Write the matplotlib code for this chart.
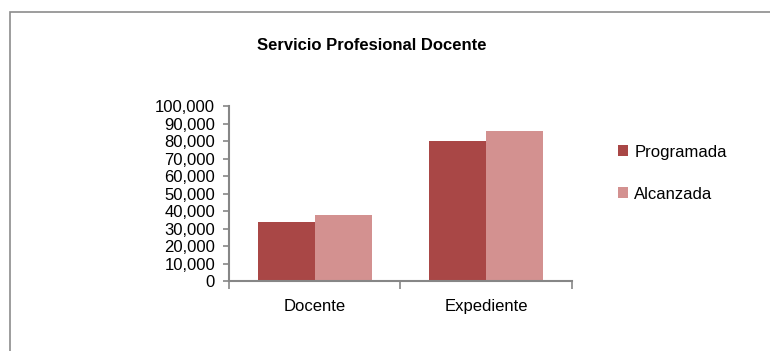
import numpy as np
import matplotlib.pyplot as plt
from matplotlib.patches import Rectangle
from matplotlib.ticker import FuncFormatter, MultipleLocator

plt.rcParams['font.family'] = ['Liberation Sans', 'DejaVu Sans']

categories = ["Docente", "Expediente"]
series_names = ["Programada", "Alcanzada"]
programada = [33900, 80000]
alcanzada = [37700, 85700]
colors = ["#A94746", "#D39190"]
axis_gray = "#868686"

fig = plt.figure(figsize=(7.7, 3.51), dpi=100)

# outer chart frame (runs past the right and bottom edges)
fig.patches.append(Rectangle((10 / 770, -0.1), 1.2, (351 - 12) / 351 + 0.1,
                             transform=fig.transFigure, fill=False,
                             edgecolor="#8c8c8c", linewidth=1.2))

ax = fig.add_axes([229 / 770, 70 / 351, 342.5 / 770, 174.5 / 351])

x = np.arange(len(categories))
width = 1 / 3
ax.bar(x - width / 2, programada, width, color=colors[0], label=series_names[0])
ax.bar(x + width / 2, alcanzada, width, color=colors[1], label=series_names[1])

ax.set_xlim(-0.5, len(categories) - 0.5)
ax.set_ylim(0, 100000)
ax.yaxis.set_major_locator(MultipleLocator(10000))
ax.yaxis.set_major_formatter(FuncFormatter(lambda v, p: f"{int(v):,}"))

# category labels sit between boundary ticks
ax.set_xticks(np.arange(-0.5, len(categories), 1))
ax.set_xticklabels([])
ax.set_xticks(x, minor=True)
ax.set_xticklabels(categories, minor=True)
ax.tick_params(axis="x", which="minor", length=0, pad=13, labelsize=12)
ax.tick_params(axis="x", which="major", length=6, color=axis_gray, width=1.2)
ax.tick_params(axis="y", length=4, color=axis_gray, width=1.2, labelsize=12, pad=6)

for side in ("top", "right"):
    ax.spines[side].set_visible(False)
for side in ("left", "bottom"):
    ax.spines[side].set_color(axis_gray)
    ax.spines[side].set_linewidth(1.5)

fig.text(372 / 770, 1 - 45 / 351, "Servicio Profesional Docente",
         ha="center", va="center", fontsize=12, fontweight="bold")

fig.legend(loc="upper left", bbox_to_anchor=(611 / 770, 1 - 138 / 351),
           frameon=False, fontsize=12, handlelength=0.6, handleheight=0.6,
           handletextpad=0.4, labelspacing=1.62, borderaxespad=0)

fig.savefig("out.png", dpi=100)
